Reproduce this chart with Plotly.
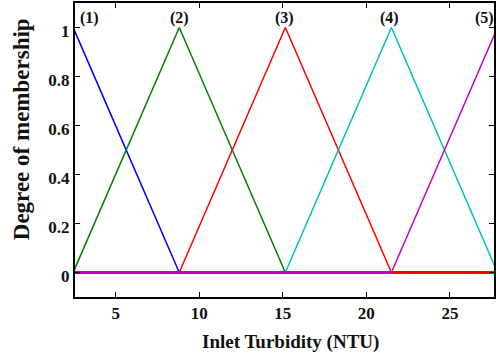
import plotly.graph_objects as go

# Triangular membership functions for inlet turbidity (NTU)
mf_names = ["(1)", "(2)", "(3)", "(4)", "(5)"]
mf_peaks = [2.45, 8.8, 15.15, 21.5, 27.85]
mf_colors = ["#0000FF", "#008000", "#FF0000", "#00BFBF", "#BF00BF"]
label_x = [3.4, 8.8, 15.1, 21.4, 27.1]

x_range = [2.56, 27.64]
x_ticks = [5, 10, 15, 20, 25]
x_ticktext = ["5", "10", "15", "20", "25"]
y_ticks = [0, 0.2, 0.4, 0.6, 0.8, 1]
y_ticktext = ["0", "0.2", "0.4", "0.6", "0.8", "1"]

FONT = "Liberation Serif"

fig = go.Figure()

n = len(mf_peaks)
tails = []
for i, c in enumerate(mf_peaks):
    left = mf_peaks[i - 1] if i > 0 else c - (mf_peaks[1] - mf_peaks[0])
    right = mf_peaks[i + 1] if i < n - 1 else c + (mf_peaks[-1] - mf_peaks[-2])
    # rising and falling edges of the triangle
    fig.add_trace(go.Scatter(
        x=[left, c, right], y=[0, 1, 0], mode="lines",
        line=dict(color=mf_colors[i], width=1.5),
        showlegend=False, hoverinfo="skip",
    ))
    # flat zero parts over the rest of the universe of discourse
    xs, ys = [], []
    if left > x_range[0] - 1:
        xs += [x_range[0] - 1, left, None]
        ys += [0, 0, None]
    if right < x_range[1] + 1:
        xs += [right, x_range[1] + 1]
        ys += [0, 0]
    tails.append((xs, ys, mf_colors[i]))

for xs, ys, col in tails:
    fig.add_trace(go.Scatter(
        x=xs, y=ys, mode="lines", line=dict(color=col, width=3),
        showlegend=False, hoverinfo="skip", connectgaps=False,
    ))

for name, lx in zip(mf_names, label_x):
    fig.add_annotation(
        x=lx, y=1.04, xref="x", yref="y", text=f"<b>{name}</b>",
        showarrow=False, xanchor="center", yanchor="middle",
        font=dict(family=FONT, size=16, color="#111"),
    )

fig.add_annotation(
    x=0.514, y=-0.153, xref="paper", yref="paper",
    text="<b>Inlet Turbidity (NTU)</b>", showarrow=False,
    xanchor="center", yanchor="middle",
    font=dict(family=FONT, size=19, color="#111"),
)
fig.add_annotation(
    x=-0.128, y=0.572, xref="paper", yref="paper",
    text="<b>Degree of membership</b>", showarrow=False, textangle=-90,
    xanchor="center", yanchor="middle",
    font=dict(family=FONT, size=23, color="#111"),
)

axis_common = dict(
    showgrid=False, zeroline=False, showline=True, linewidth=2,
    linecolor="black", mirror="ticks", ticks="inside", ticklen=5,
    tickwidth=1, tickcolor="black",
    tickfont=dict(family=FONT, size=17, color="#111"),
)

fig.update_xaxes(range=x_range, tickvals=x_ticks,
                 ticktext=[f"<b>{t}</b>" for t in x_ticktext], **axis_common)
fig.update_yaxes(range=[-0.1, 1.1], tickvals=y_ticks,
                 ticktext=[f"<b>{t}</b>" for t in y_ticktext],
                 ticklabelshift=4, **axis_common)

fig.update_layout(
    width=496, height=360, autosize=False,
    margin=dict(l=75, r=0, t=3, b=63),
    plot_bgcolor="white", paper_bgcolor="white",
)

fig.write_html("out.html")
